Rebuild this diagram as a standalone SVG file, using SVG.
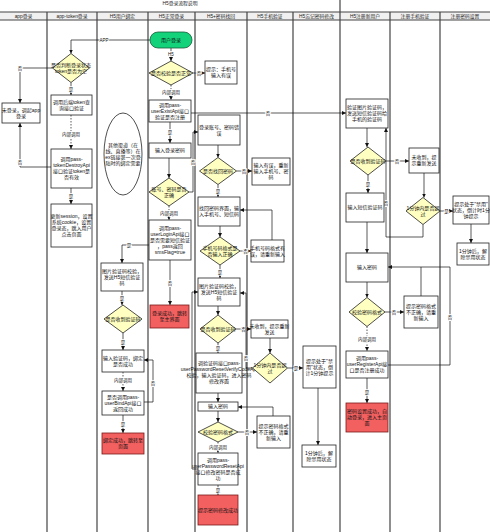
<svg xmlns="http://www.w3.org/2000/svg" width="490" height="532" viewBox="0 0 490 532">
<style>
.lane{stroke:#444;stroke-width:1.2}
.box{fill:#fff;stroke:#222;stroke-width:0.8}
.dia{fill:#FFFFC2;stroke:#222;stroke-width:0.8}
.red{fill:#F26060;stroke:#7a1a1a;stroke-width:0.8}
.grn{fill:#12D27A;stroke:#1a5a3a;stroke-width:0.8}
.t{font-family:"Liberation Sans","Noto Sans CJK SC",sans-serif;font-size:5px;fill:#111;text-anchor:middle}
.h{font-family:"Liberation Sans","Noto Sans CJK SC",sans-serif;font-size:4.8px;fill:#222;text-anchor:middle}
.l{font-family:"Liberation Sans","Noto Sans CJK SC",sans-serif;font-size:4.5px;fill:#111;text-anchor:middle;stroke:#fff;stroke-width:1.6;paint-order:stroke}
.c{fill:none;stroke:#111;stroke-width:0.7;marker-end:url(#a)}
.n{fill:none;stroke:#111;stroke-width:0.7}
.d{fill:none;stroke:#111;stroke-width:0.7;stroke-dasharray:1.5 1.5;marker-end:url(#a)}
</style>
<defs>
<marker id="a" viewBox="0 0 6 6" refX="6" refY="3" markerWidth="4" markerHeight="4" markerUnits="userSpaceOnUse" orient="auto"><path d="M0,0L6,3L0,6z" fill="#111"/></marker>
</defs>
<rect x="0" y="0" width="490" height="532" fill="#fff"/>
<g id="lanes">
<rect x="0" y="12" width="490" height="8" fill="#f0f0f0"/>
<line class="lane" x1="0" y1="12" x2="490" y2="12"/>
<line class="lane" x1="0" y1="20" x2="490" y2="20"/>
<line class="lane" x1="340" y1="0" x2="340" y2="12"/>
<text class="h" x="180" y="5" fill="#666">H5登录流程说明</text>
<line class="lane" x1="47" y1="12" x2="47" y2="532"/>
<line class="lane" x1="97" y1="12" x2="97" y2="532"/>
<line class="lane" x1="148" y1="12" x2="148" y2="532"/>
<line class="lane" x1="195" y1="12" x2="195" y2="532"/>
<line class="lane" x1="247" y1="12" x2="247" y2="532"/>
<line class="lane" x1="293" y1="12" x2="293" y2="532"/>
<line class="lane" x1="340" y1="12" x2="340" y2="532"/>
<line class="lane" x1="390" y1="12" x2="390" y2="532"/>
<line class="lane" x1="440" y1="12" x2="440" y2="532"/>
<text class="h" x="23.5" y="18">app登录</text>
<text class="h" x="72" y="18">app-token登录</text>
<text class="h" x="122.5" y="18">H5用户绑定</text>
<text class="h" x="171.5" y="18">H5正常登录</text>
<text class="h" x="221" y="18">H5+密码找回</text>
<text class="h" x="270" y="18">H5手机验证</text>
<text class="h" x="316.5" y="18">H5忘记密码修改</text>
<text class="h" x="365" y="18">H5注册新用户</text>
<text class="h" x="415" y="18">注册手机验证</text>
<text class="h" x="465" y="18">注册密码设置</text>
</g>
<g id="connectors">
<path class="c" d="M150,40H71V53.5"/><text class="l" x="104" y="41.5">APP</text>
<path class="c" d="M52.5,68H20V103"/><text class="l" x="20" y="69.5">否</text>
<path class="c" d="M71,82.5V95"/><text class="l" x="71" y="90.5">是</text>
<path class="d" d="M71,115V149"/><text class="l" x="71" y="136">内部调用</text>
<path class="c" d="M51,167H20V123"/><text class="l" x="20" y="164">否</text>
<path class="c" d="M71,188V204"/><text class="l" x="71" y="198">是</text>
<path class="c" d="M171,48V61"/><text class="l" x="171" y="55.5">H5</text>
<path class="c" d="M193,73H205"/><text class="l" x="199" y="74.5">否</text>
<path class="d" d="M171,85V100"/><text class="l" x="171" y="93.5">内部调用</text>
<path class="c" d="M191,113H346"/><text class="l" x="268" y="114.5">否</text>
<path class="c" d="M170,122V143"/><text class="l" x="170" y="134">是</text>
<path class="c" d="M169,158V178"/>
<path class="c" d="M189,192H193V132H198"/><text class="l" x="193" y="163.5">否</text>
<path class="d" d="M169,206V220"/><text class="l" x="169" y="214.5">内部调用</text>
<path class="c" d="M170,260V305"/><text class="l" x="170" y="284.5">否</text>
<path class="c" d="M149,245H122V263"/><text class="l" x="129" y="246.5">是</text>
<path class="c" d="M218,145V157.5"/>
<path class="c" d="M236.5,171H252"/><text class="l" x="244" y="172.5">否</text>
<path class="c" d="M218,184.5V197"/><text class="l" x="218" y="192.5">是</text>
<path class="c" d="M220,226V237"/>
<path class="c" d="M240,251H251"/><text class="l" x="245.5" y="252.5">否</text>
<path class="c" d="M272,240V210H240"/>
<path class="c" d="M220,265V278"/><text class="l" x="220" y="273.5">是</text>
<path class="c" d="M218,306V315"/>
<path class="c" d="M236,329H251"/><text class="l" x="243.5" y="330.5">否</text>
<path class="c" d="M270,338V353"/>
<path class="c" d="M287.5,368H303"/><text class="l" x="296" y="369.5">是</text>
<path class="c" d="M252.5,368H246V293H240"/><text class="l" x="246" y="359.5">否</text>
<path class="c" d="M318,388V445"/>
<path class="c" d="M218,343V353"/><text class="l" x="218" y="349.5">是</text>
<path class="c" d="M218,393V402"/>
<path class="c" d="M218,411V422"/>
<path class="c" d="M238,432H257"/><text class="l" x="247" y="433.5">否</text>
<path class="c" d="M273,416V407H238"/>
<path class="d" d="M218,442V453"/><text class="l" x="218" y="448.5">内部调用</text>
<path class="c" d="M218,485V495"/><text class="l" x="218" y="491.5">是</text>
<path class="c" d="M198,469H192V292H198"/>
<path class="c" d="M122,291V305"/><text class="l" x="122" y="299.5">是</text>
<path class="c" d="M123,333V350"/><text class="l" x="123" y="343.5">是</text>
<path class="d" d="M123,372V391"/><text class="l" x="123" y="381.5">内部调用</text>
<path class="c" d="M144,402H153V360H144"/><text class="l" x="153" y="384.5">否</text>
<path class="c" d="M123,415V433"/><text class="l" x="123" y="425.5">是</text>
<path class="c" d="M367,128V147"/>
<path class="c" d="M386,161H409"/><text class="l" x="397" y="162.5">否</text>
<path class="c" d="M424,173V197.5"/>
<path class="c" d="M440,211H453"/><text class="l" x="446.5" y="212.5">是</text>
<path class="c" d="M471,224V243"/>
<path class="c" d="M423,224.5V237H386V128"/><text class="l" x="386" y="204.5">否</text>
<path class="c" d="M368,175V193"/><text class="l" x="368" y="185.5">是</text>
<path class="c" d="M367,222V253"/>
<path class="c" d="M367,282V297.5"/>
<path class="c" d="M385,312H404"/><text class="l" x="394" y="313.5">否</text>
<path class="c" d="M421,296V267H388"/>
<path class="d" d="M367,326.5V351"/><text class="l" x="367" y="340.5">内部调用</text>
<path class="n" d="M388,365H450V267H421"/><text class="l" x="450" y="318.5">否</text>
<path class="c" d="M367,378V403"/><text class="l" x="367" y="393.5">是</text>
</g>
<g id="n1"><rect class="box" x="2" y="103" width="38" height="20"/><text class="t"><tspan x="21" y="111.8">未登录，调起app</tspan><tspan x="21" y="117.8">登录</tspan></text></g>
<g id="n2"><polygon class="dia" points="52.5,68 71,53.5 89.5,68 71,82.5"/><text class="t"><tspan x="71" y="66.8">是否判断登录状态</tspan><tspan x="71" y="72.8">token是否为空</tspan></text></g>
<g id="n3"><rect class="box" x="51" y="95" width="41" height="20"/><text class="t"><tspan x="71.5" y="103.8">调用后端token查</tspan><tspan x="71.5" y="109.8">询接口验证</tspan></text></g>
<g id="n4"><rect class="box" x="51" y="149" width="41" height="39"/><text class="t"><tspan x="71.5" y="161.3">调用pass-</tspan><tspan x="71.5" y="167.3">tokenDestroyApi</tspan><tspan x="71.5" y="173.3">接口验证token是</tspan><tspan x="71.5" y="179.3">否有效</tspan></text></g>
<g id="n5"><rect class="box" x="51" y="204" width="41" height="43"/><text class="t"><tspan x="71.5" y="218.3">更新session，设置</tspan><tspan x="71.5" y="224.3">系统cookie，设置</tspan><tspan x="71.5" y="230.3">登录态，跳入用户</tspan><tspan x="71.5" y="236.3">点击页面</tspan></text></g>
<g id="n6"><ellipse class="box" cx="123" cy="154" rx="19" ry="41"/><text class="t"><tspan x="123" y="146.8">其他渠道（在</tspan><tspan x="123" y="152.8">线、直播等）在</tspan><tspan x="123" y="158.8">ex链接第一次登</tspan><tspan x="123" y="164.8">陆时的绑定需要</tspan></text></g>
<g id="n7"><rect class="box" x="101" y="263" width="42" height="28"/><text class="t"><tspan x="122" y="272.8">图片验证码校验，</tspan><tspan x="122" y="278.8">发送H5短信验证</tspan><tspan x="122" y="284.8">码</tspan></text></g>
<g id="n8"><polygon class="dia" points="104,319 123,305 142,319 123,333"/><text class="t" x="123" y="320.8">是否收到验证码</text></g>
<g id="n9"><rect class="box" x="102" y="350" width="42" height="22"/><text class="t"><tspan x="123" y="359.8">输入验证码，绑定</tspan><tspan x="123" y="365.8">是否成功</tspan></text></g>
<g id="n10"><rect class="box" x="102" y="391" width="42" height="24"/><text class="t"><tspan x="123" y="398.8">是否调用pass-</tspan><tspan x="123" y="404.8">userBindApi接口</tspan><tspan x="123" y="410.8">返回成功</tspan></text></g>
<g id="n11"><rect class="red" x="102" y="433" width="42" height="21"/><text class="t"><tspan x="123" y="442.3">绑定成功，跳转至</tspan><tspan x="123" y="448.3">页面</tspan></text></g>
<g id="n12"><rect class="grn" x="150" y="32" width="42" height="16" rx="8"/><text class="t" x="171" y="41.8">用户登录</text></g>
<g id="n13"><polygon class="dia" points="149,73 171,61 193,73 171,85"/><text class="t" x="171" y="74.8">是否校验是否正常</text></g>
<g id="n14"><rect class="box" x="149" y="100" width="42" height="22"/><text class="t"><tspan x="170" y="106.8">调用pass-</tspan><tspan x="170" y="112.8">userExistApi接口</tspan><tspan x="170" y="118.8">验证是否注册</tspan></text></g>
<g id="n15"><rect class="box" x="149" y="143" width="42" height="15"/><text class="t" x="170" y="152.3">输入登录密码</text></g>
<g id="n16"><polygon class="dia" points="149,192 169,178 189,192 169,206"/><text class="t"><tspan x="169" y="190.8">账号、密码是否</tspan><tspan x="169" y="196.8">正确</tspan></text></g>
<g id="n17"><rect class="box" x="149" y="220" width="42" height="40"/><text class="t"><tspan x="170" y="229.8">调用pass-</tspan><tspan x="170" y="235.8">userLoginApi接口</tspan><tspan x="170" y="241.8">是否需要短信验证</tspan><tspan x="170" y="247.8">，pass返回</tspan><tspan x="170" y="253.8">smsFlag=true</tspan></text></g>
<g id="n18"><rect class="red" x="150" y="305" width="39" height="23"/><text class="t"><tspan x="169.5" y="315.3">登录成功，跳转</tspan><tspan x="169.5" y="321.3">至主界面</tspan></text></g>
<g id="n19"><rect class="box" x="205" y="61" width="32" height="23"/><text class="t"><tspan x="221" y="71.3">提示：手机号</tspan><tspan x="221" y="77.3">输入有误</tspan></text></g>
<g id="n20"><rect class="box" x="198" y="115" width="42" height="30"/><text class="t"><tspan x="219" y="128.8">登录账号、密码错</tspan><tspan x="219" y="134.8">误</tspan></text></g>
<g id="n21"><polygon class="dia" points="199.5,171 218,157.5 236.5,171 218,184.5"/><text class="t" x="218" y="172.8">是否找回密码</text></g>
<g id="n22"><rect class="box" x="198" y="197" width="42" height="29"/><text class="t"><tspan x="219" y="210.3">找回密码界面，输</tspan><tspan x="219" y="216.3">入手机号、短信码</tspan></text></g>
<g id="n23"><polygon class="dia" points="200,251 220,237 240,251 220,265"/><text class="t"><tspan x="220" y="249.8">手机号码格式是</tspan><tspan x="220" y="255.8">否输入正确</tspan></text></g>
<g id="n24"><rect class="box" x="198" y="278" width="42" height="28"/><text class="t"><tspan x="219" y="287.8">图片验证码校验，</tspan><tspan x="219" y="293.8">发送H5短信验证</tspan><tspan x="219" y="299.8">码</tspan></text></g>
<g id="n25"><polygon class="dia" points="200,329 218,315 236,329 218,343"/><text class="t" x="218" y="330.8">是否收到验证码</text></g>
<g id="n26"><rect class="box" x="196" y="353" width="46" height="40"/><text class="t"><tspan x="219" y="364.8">调验证码接口pass-</tspan><tspan x="219" y="370.8">userPasswordResetVerifyCodeApi</tspan><tspan x="219" y="376.8">校验，输入验证码，进入密码</tspan><tspan x="219" y="382.8">修改界面</tspan></text></g>
<g id="n27"><rect class="box" x="198" y="402" width="40" height="9"/><text class="t" x="218" y="408.3">输入密码</text></g>
<g id="n28"><polygon class="dia" points="198,432 218,422 238,432 218,442"/><text class="t" x="218" y="433.8">校验密码格式</text></g>
<g id="n29"><rect class="box" x="198" y="453" width="40" height="32"/><text class="t"><tspan x="218" y="461.8">调用pass-</tspan><tspan x="218" y="467.8">userPasswordResetApi</tspan><tspan x="218" y="473.8">接口修改密码是否成</tspan><tspan x="218" y="479.8">功</tspan></text></g>
<g id="n30"><rect class="red" x="198" y="495" width="40" height="30"/><text class="t" x="218" y="511.8">提示密码修改成功</text></g>
<g id="n31"><rect class="box" x="252" y="158" width="38" height="27"/><text class="t"><tspan x="271" y="167.3">输入有误，重新</tspan><tspan x="271" y="173.3">输入手机号、密</tspan><tspan x="271" y="179.3">码</tspan></text></g>
<g id="n32"><rect class="box" x="251" y="240" width="33" height="22"/><text class="t"><tspan x="267.5" y="249.8">手机号码格式有</tspan><tspan x="267.5" y="255.8">误，请重新输入</tspan></text></g>
<g id="n33"><rect class="box" x="251" y="320" width="37" height="18"/><text class="t"><tspan x="269.5" y="327.8">未收到，提示重新</tspan><tspan x="269.5" y="333.8">发送</tspan></text></g>
<g id="n34"><polygon class="dia" points="252.5,368 270,353 287.5,368 270,383"/><text class="t"><tspan x="270" y="366.8">1分钟内是否超</tspan><tspan x="270" y="372.8">过</tspan></text></g>
<g id="n35"><rect class="box" x="257" y="416" width="33" height="32"/><text class="t"><tspan x="273.5" y="427.8">提示密码格式</tspan><tspan x="273.5" y="433.8">不正确，请重</tspan><tspan x="273.5" y="439.8">新输入</tspan></text></g>
<g id="n36"><rect class="box" x="303" y="346" width="33" height="42"/><text class="t"><tspan x="319.5" y="362.8">提示处于"禁</tspan><tspan x="319.5" y="368.8">用"状态，倒</tspan><tspan x="319.5" y="374.8">计1分钟提示</tspan></text></g>
<g id="n37"><rect class="box" x="302" y="445" width="34" height="22"/><text class="t"><tspan x="319" y="454.8">1分钟后，解</tspan><tspan x="319" y="460.8">除禁用状态</tspan></text></g>
<g id="n38"><rect class="box" x="346" y="99" width="42" height="29"/><text class="t"><tspan x="367" y="109.3">验证图片验证码，</tspan><tspan x="367" y="115.3">发送短信验证码给</tspan><tspan x="367" y="121.3">手机的验证码</tspan></text></g>
<g id="n39"><polygon class="dia" points="350,161 368,147 386,161 368,175"/><text class="t" x="368" y="162.8">是否收到验证码</text></g>
<g id="n40"><rect class="box" x="346" y="193" width="38" height="29"/><text class="t" x="365" y="209.3">输入短信验证码</text></g>
<g id="n41"><rect class="box" x="346" y="253" width="42" height="29"/><text class="t" x="367" y="269.3">输入密码</text></g>
<g id="n42"><polygon class="dia" points="349,312 367,297.5 385,312 367,326.5"/><text class="t" x="367" y="313.8">校验密码格式</text></g>
<g id="n43"><rect class="box" x="346" y="351" width="42" height="27"/><text class="t"><tspan x="367" y="360.3">调用pass-</tspan><tspan x="367" y="366.3">userRegisterApi接</tspan><tspan x="367" y="372.3">口是否注册成功</tspan></text></g>
<g id="n44"><rect class="red" x="346" y="403" width="42" height="29"/><text class="t"><tspan x="367" y="413.3">密码设置成功，自</tspan><tspan x="367" y="419.3">动登录，进入主页</tspan><tspan x="367" y="425.3">面</tspan></text></g>
<g id="n45"><rect class="box" x="409" y="148" width="30" height="25"/><text class="t"><tspan x="424" y="159.3">未收到，提</tspan><tspan x="424" y="165.3">示重新发送</tspan></text></g>
<g id="n46"><polygon class="dia" points="406,211 423,197.5 440,211 423,224.5"/><text class="t"><tspan x="423" y="209.8">1分钟内是否超</tspan><tspan x="423" y="215.8">过</tspan></text></g>
<g id="n47"><rect class="box" x="404" y="296" width="34" height="32"/><text class="t"><tspan x="421" y="307.8">提示密码格式</tspan><tspan x="421" y="313.8">不正确，请重</tspan><tspan x="421" y="319.8">新输入</tspan></text></g>
<g id="n48"><rect class="box" x="453" y="196" width="36" height="28"/><text class="t"><tspan x="471" y="205.8">提示处于"禁用"</tspan><tspan x="471" y="211.8">状态，倒计时1分</tspan><tspan x="471" y="217.8">钟提示</tspan></text></g>
<g id="n49"><rect class="box" x="457" y="243" width="32" height="22"/><text class="t"><tspan x="473" y="252.8">1分钟后，解</tspan><tspan x="473" y="258.8">除禁用状态</tspan></text></g>
</svg>
